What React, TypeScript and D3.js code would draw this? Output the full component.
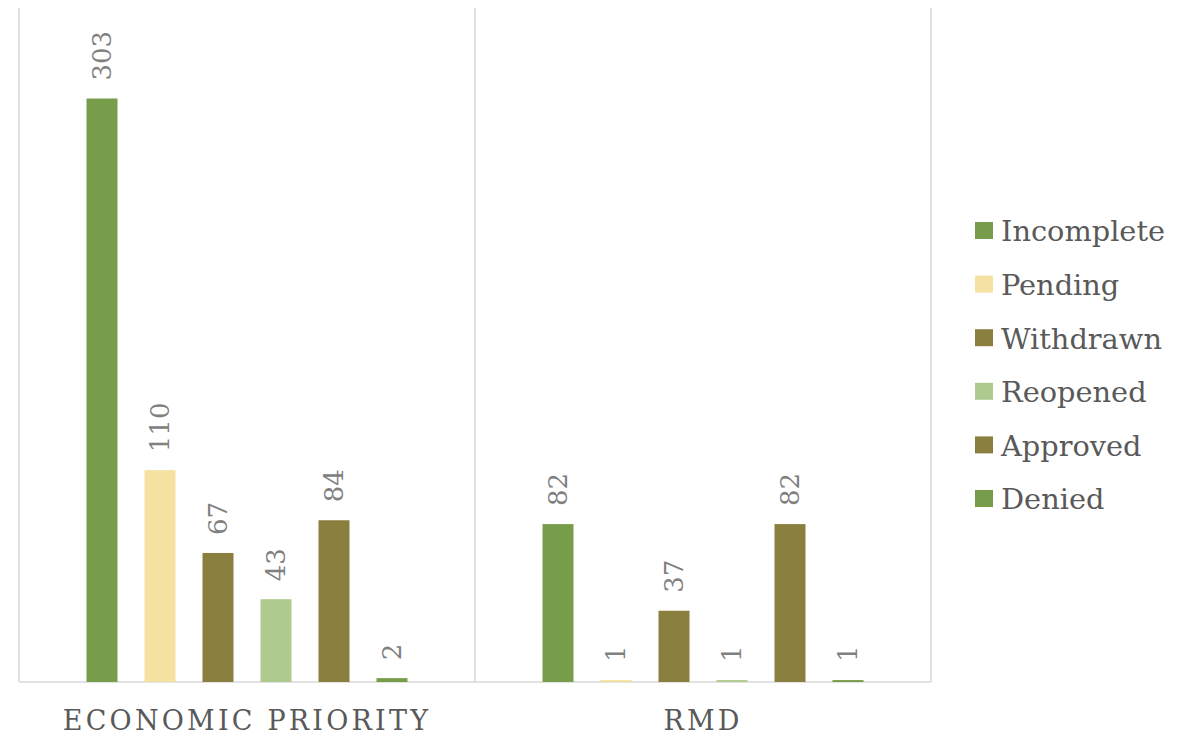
import React from 'react';
import * as d3 from 'd3';

const categories = ['ECONOMIC PRIORITY', 'RMD'];
const seriesNames = ['Incomplete', 'Pending', 'Withdrawn', 'Reopened', 'Approved', 'Denied'];
const economicPriorityValues = [303, 110, 67, 43, 84, 2];
const rmdValues = [82, 1, 37, 1, 82, 1];
const seriesColors = ['#789D4A', '#F5E2A2', '#8A7F3E', '#AFCA8E', '#8A7F3E', '#789D4A'];
const yDomainMax = 350;

const valuesByCategory: number[][] = [economicPriorityValues, rmdValues];

const W = 1188;
const H = 735;
const plotLeft = 19;
const plotRight = 931;
const plotTop = 8;
const plotBottom = 682;
const FONT = '"DejaVu Serif", serif';

export default function App() {
  const x0 = d3.scaleBand<string>().domain(categories).range([plotLeft, plotRight]).padding(0);
  const x1 = d3
    .scaleBand<string>()
    .domain(seriesNames)
    .range([0, x0.bandwidth()])
    .paddingInner(0.4655)
    .paddingOuter(1.164);
  const y = d3.scaleLinear().domain([0, yDomainMax]).range([plotBottom, plotTop]);

  const gridXs = [plotLeft, ...categories.map((c) => (x0(c) as number) + x0.bandwidth())];

  const legendX = 975;
  const legendY0 = 231;
  const legendStep = 53.6;

  return (
    <svg
      width={W}
      height={H}
      style={{ position: 'absolute', left: 0, top: 0, background: '#fff' }}
    >
      <rect x={0} y={0} width={W} height={H} fill="#fff" />
      {gridXs.map((gx, i) => (
        <line key={i} x1={gx} x2={gx} y1={plotTop} y2={plotBottom} stroke="#D9D9D9" strokeWidth={1.5} />
      ))}
      <line x1={plotLeft} x2={plotRight} y1={plotBottom} y2={plotBottom} stroke="#D9D9D9" strokeWidth={1.5} />

      {categories.map((cat, ci) => (
        <g key={cat}>
          {seriesNames.map((s, si) => {
            const v = valuesByCategory[ci][si];
            const bx = (x0(cat) as number) + (x1(s) as number);
            const by = y(v);
            const cx = bx + x1.bandwidth() / 2;
            return (
              <g key={s}>
                <rect x={bx} y={by} width={x1.bandwidth()} height={plotBottom - by} fill={seriesColors[si]} />
                <text
                  transform={`translate(${cx},${by - 18}) rotate(-90)`}
                  dy="0.36em"
                  textAnchor="start"
                  fontFamily={FONT}
                  fontSize={26}
                  fill="#808080"
                >
                  {v}
                </text>
              </g>
            );
          })}
          <text
            x={(x0(cat) as number) + x0.bandwidth() / 2}
            y={730}
            textAnchor="middle"
            fontFamily={FONT}
            fontSize={27}
            letterSpacing={3.2}
            fill="#595959"
          >
            {cat}
          </text>
        </g>
      ))}

      {seriesNames.map((s, i) => (
        <g key={s} transform={`translate(${legendX},${legendY0 + i * legendStep})`}>
          <rect x={0} y={-9} width={18} height={17} fill={seriesColors[i]} />
          <text x={26} y={0} dy="0.36em" fontFamily={FONT} fontSize={28.8} fill="#595959">
            {s}
          </text>
        </g>
      ))}
    </svg>
  );
}
